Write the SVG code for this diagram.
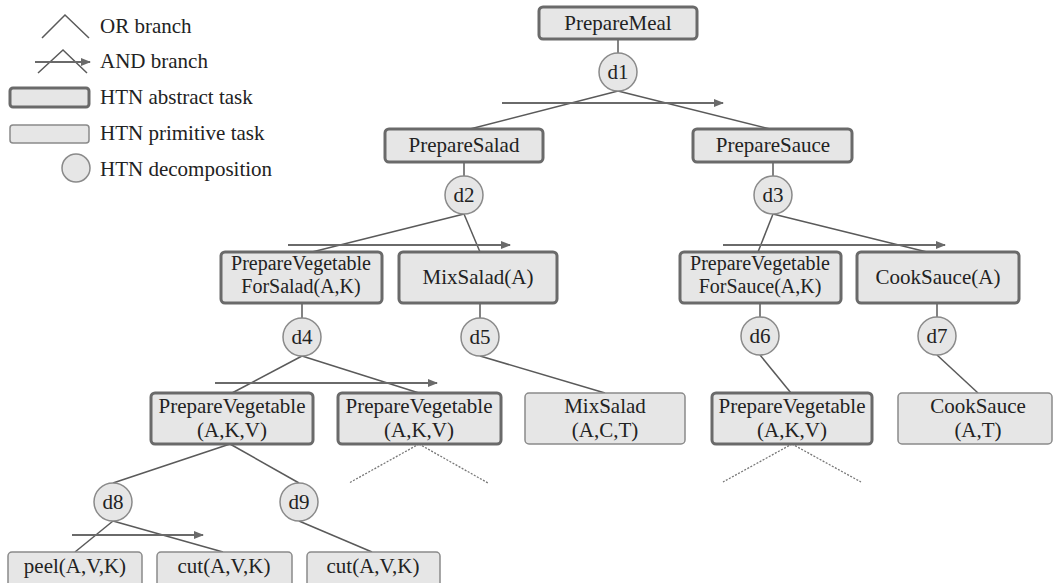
<svg xmlns="http://www.w3.org/2000/svg" width="1054" height="583" viewBox="0 0 1054 583">
<defs>
<style>
text{font-family:"Liberation Serif","DejaVu Serif",serif;font-size:21px;fill:#222}
.c{text-anchor:middle}
.t2{font-size:20px}
.abs{fill:#e6e6e6;stroke:#6a6a6a;stroke-width:3}
.prim{fill:#e6e6e6;stroke:#8a8a8a;stroke-width:1.5}
.dec{fill:#e6e6e6;stroke:#8a8a8a;stroke-width:1.5}
.ln{stroke:#5a5a5a;stroke-width:1.5;fill:none}
.and{stroke:#6a6a6a;stroke-width:2;fill:none;marker-end:url(#ah)}
.dot{stroke:#777;stroke-width:1.3;stroke-dasharray:2 1.5;fill:none}
</style>
<marker id="ah" markerWidth="10" markerHeight="8" refX="9" refY="4" orient="auto" markerUnits="userSpaceOnUse">
<path d="M0,0 L10,4 L0,8 Z" fill="#6a6a6a"/>
</marker>
</defs>
<rect width="1054" height="583" fill="#fff"/>

<g id="legend">
<polyline class="ln" points="42,38 65,15 89,38"/>
<text x="100" y="33">OR branch</text>
<polyline class="ln" points="38,73 63,50 87,73"/>
<line class="and" x1="35" y1="62" x2="90" y2="62"/>
<text x="100" y="68">AND branch</text>
<rect class="abs" x="10" y="88" width="79" height="19" rx="3"/>
<text x="100" y="104">HTN abstract task</text>
<rect class="prim" x="10" y="125" width="79" height="18" rx="3"/>
<text x="100" y="140">HTN primitive task</text>
<circle class="dec" cx="76" cy="168" r="14"/>
<text x="100" y="176">HTN decomposition</text>
</g>

<g id="connectors">
<line class="ln" x1="618" y1="39" x2="618" y2="53"/>
<line class="ln" x1="618" y1="91" x2="470" y2="129"/>
<line class="ln" x1="618" y1="91" x2="770" y2="129"/>
<line class="and" x1="502" y1="103" x2="723" y2="103"/>
<line class="ln" x1="464" y1="162" x2="464" y2="176"/>
<line class="ln" x1="773" y1="162" x2="773" y2="176"/>
<line class="ln" x1="464" y1="214" x2="312" y2="252"/>
<line class="ln" x1="464" y1="214" x2="480" y2="252"/>
<line class="and" x1="288" y1="245" x2="510" y2="245"/>
<line class="ln" x1="773" y1="214" x2="758" y2="252"/>
<line class="ln" x1="773" y1="214" x2="927" y2="252"/>
<line class="and" x1="723" y1="245" x2="945" y2="245"/>
<line class="ln" x1="302" y1="303" x2="302" y2="318"/>
<line class="ln" x1="480" y1="303" x2="480" y2="318"/>
<line class="ln" x1="760" y1="303" x2="760" y2="317"/>
<line class="ln" x1="937" y1="303" x2="937" y2="317"/>
<line class="ln" x1="302" y1="356" x2="232" y2="393"/>
<line class="ln" x1="302" y1="356" x2="419" y2="393"/>
<line class="and" x1="215" y1="383" x2="437" y2="383"/>
<line class="ln" x1="480" y1="356" x2="605" y2="393"/>
<line class="ln" x1="760" y1="355" x2="791" y2="393"/>
<line class="ln" x1="937" y1="355" x2="978" y2="393"/>
<line class="ln" x1="230" y1="444" x2="113" y2="483"/>
<line class="ln" x1="230" y1="444" x2="299" y2="483"/>
<line class="dot" x1="419" y1="444" x2="349" y2="483"/>
<line class="dot" x1="419" y1="444" x2="488" y2="483"/>
<line class="dot" x1="792" y1="444" x2="723" y2="482"/>
<line class="dot" x1="792" y1="444" x2="861" y2="482"/>
<line class="ln" x1="113" y1="521" x2="75" y2="552"/>
<line class="ln" x1="113" y1="521" x2="223" y2="552"/>
<line class="and" x1="72" y1="535" x2="203" y2="535"/>
<line class="ln" x1="299" y1="521" x2="372" y2="552"/>
</g>

<g id="PrepareMeal"><rect class="abs" x="539" y="7" width="158" height="32" rx="4"/><text class="c" x="618" y="30">PrepareMeal</text></g>
<g id="d1"><circle class="dec" cx="618" cy="72" r="19"/><text class="c" x="618" y="79">d1</text></g>
<g id="PrepareSalad"><rect class="abs" x="385" y="129" width="158" height="33" rx="4"/><text class="c" x="464" y="152">PrepareSalad</text></g>
<g id="PrepareSauce"><rect class="abs" x="693" y="129" width="159" height="33" rx="4"/><text class="c" x="773" y="152">PrepareSauce</text></g>
<g id="d2"><circle class="dec" cx="464" cy="195" r="19"/><text class="c" x="464" y="202">d2</text></g>
<g id="d3"><circle class="dec" cx="773" cy="195" r="19"/><text class="c" x="773" y="202">d3</text></g>
<g id="PrepareVegetableForSalad"><rect class="abs" x="221" y="252" width="161" height="51" rx="4"/><text class="c t2" x="301" y="270">PrepareVegetable</text><text class="c t2" x="301" y="293">ForSalad(A,K)</text></g>
<g id="MixSaladA"><rect class="abs" x="399" y="252" width="158" height="51" rx="4"/><text class="c" x="478" y="284">MixSalad(A)</text></g>
<g id="PrepareVegetableForSauce"><rect class="abs" x="680" y="252" width="161" height="51" rx="4"/><text class="c t2" x="760" y="270">PrepareVegetable</text><text class="c t2" x="760" y="293">ForSauce(A,K)</text></g>
<g id="CookSauceA"><rect class="abs" x="857" y="252" width="162" height="51" rx="4"/><text class="c" x="938" y="284">CookSauce(A)</text></g>
<g id="d4"><circle class="dec" cx="302" cy="337" r="19"/><text class="c" x="302" y="344">d4</text></g>
<g id="d5"><circle class="dec" cx="480" cy="337" r="19"/><text class="c" x="480" y="344">d5</text></g>
<g id="d6"><circle class="dec" cx="760" cy="336" r="19"/><text class="c" x="760" y="343">d6</text></g>
<g id="d7"><circle class="dec" cx="937" cy="336" r="19"/><text class="c" x="937" y="343">d7</text></g>
<g id="PrepareVegetable1"><rect class="abs" x="151" y="393" width="162" height="51" rx="4"/><text class="c" x="232" y="413">PrepareVegetable</text><text class="c" x="232" y="437">(A,K,V)</text></g>
<g id="PrepareVegetable2"><rect class="abs" x="338" y="393" width="163" height="51" rx="4"/><text class="c" x="419" y="413">PrepareVegetable</text><text class="c" x="419" y="437">(A,K,V)</text></g>
<g id="MixSaladACT"><rect class="prim" x="525" y="393" width="160" height="51" rx="4"/><text class="c" x="605" y="413">MixSalad</text><text class="c" x="605" y="437">(A,C,T)</text></g>
<g id="PrepareVegetable3"><rect class="abs" x="712" y="393" width="160" height="51" rx="4"/><text class="c" x="792" y="413">PrepareVegetable</text><text class="c" x="792" y="437">(A,K,V)</text></g>
<g id="CookSauceAT"><rect class="prim" x="898" y="393" width="154" height="51" rx="4"/><text class="c" x="978" y="413">CookSauce</text><text class="c" x="978" y="437">(A,T)</text></g>
<g id="d8"><circle class="dec" cx="113" cy="502" r="19"/><text class="c" x="113" y="509">d8</text></g>
<g id="d9"><circle class="dec" cx="299" cy="502" r="19"/><text class="c" x="299" y="509">d9</text></g>
<g id="peel"><rect class="prim" x="8" y="552" width="134" height="40" rx="4"/><text class="c" x="75" y="573">peel(A,V,K)</text></g>
<g id="cut1"><rect class="prim" x="157" y="552" width="135" height="40" rx="4"/><text class="c" x="224" y="573">cut(A,V,K)</text></g>
<g id="cut2"><rect class="prim" x="307" y="552" width="133" height="40" rx="4"/><text class="c" x="373" y="573">cut(A,V,K)</text></g>
</svg>
